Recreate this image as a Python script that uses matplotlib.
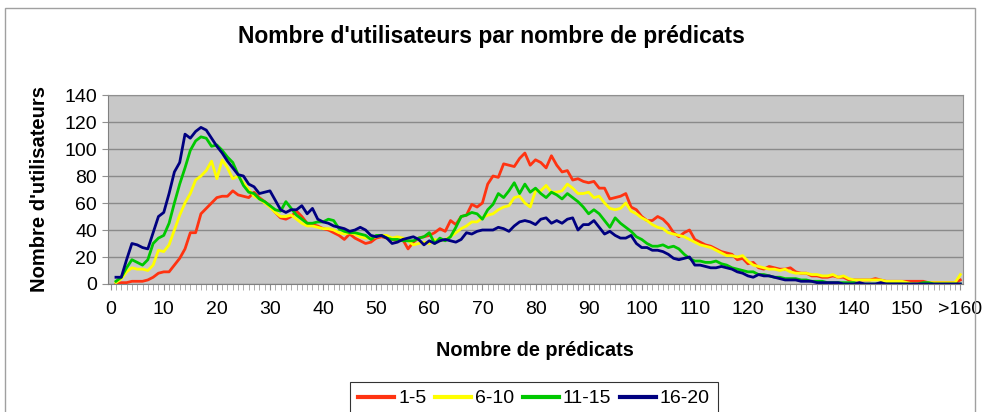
import matplotlib
matplotlib.use("Agg")
import matplotlib.pyplot as plt
from matplotlib.patches import Rectangle
from matplotlib.ticker import MultipleLocator, FixedLocator

plt.rcParams['font.family'] = ['Liberation Sans', 'DejaVu Sans']

# Number of predicates (1 .. 160, the last one stands for ">160")
predicates = list(range(1, 161))

users_1_5 = [
    0, 1, 1, 2, 2, 2, 3, 5, 8, 9,
    9, 14, 19, 26, 38, 38, 52, 56, 60, 64,
    65, 65, 69, 66, 65, 64, 68, 64, 61, 58,
    53, 49, 48, 50, 54, 50, 45, 44, 43, 41,
    40, 38, 36, 33, 37, 34, 32, 30, 31, 34,
    35, 34, 33, 32, 33, 26, 31, 34, 35, 36,
    38, 41, 39, 47, 44, 50, 51, 59, 57, 60,
    74, 80, 79, 89, 88, 87, 93, 97, 88, 92,
    90, 86, 95, 88, 83, 84, 77, 78, 76, 75,
    76, 71, 71, 63, 64, 65, 67, 57, 55, 50,
    47, 47, 50, 48, 44, 38, 35, 38, 40, 33,
    31, 29, 28, 26, 24, 23, 22, 18, 19, 15,
    16, 12, 11, 13, 12, 11, 11, 12, 9, 8,
    8, 6, 6, 5, 5, 6, 5, 5, 3, 3,
    3, 3, 3, 4, 3, 2, 2, 2, 2, 2,
    2, 2, 2, 1, 1, 1, 1, 1, 1, 3,
]

users_6_10 = [
    1, 4, 9, 12, 11, 11, 10, 14, 25, 24,
    29, 40, 51, 60, 67, 77, 80, 84, 91, 78,
    92, 86, 78, 80, 75, 70, 65, 63, 60, 57,
    53, 50, 50, 51, 48, 45, 43, 43, 42, 41,
    41, 40, 38, 37, 38, 37, 35, 34, 34, 35,
    36, 36, 34, 35, 34, 32, 29, 30, 31, 30,
    33, 32, 33, 35, 38, 41, 43, 46, 46, 49,
    51, 52, 55, 57, 58, 64, 65, 60, 57, 69,
    69, 73, 68, 68, 69, 74, 71, 67, 67, 68,
    64, 65, 60, 56, 55, 56, 60, 54, 52, 49,
    47, 44, 42, 41, 38, 37, 36, 35, 33, 31,
    29, 28, 27, 25, 23, 21, 21, 20, 21, 17,
    14, 13, 12, 11, 11, 10, 11, 9, 8, 8,
    8, 7, 7, 6, 6, 7, 5, 6, 4, 3,
    3, 3, 3, 3, 3, 2, 2, 2, 2, 1,
    0, 0, 0, 1, 1, 1, 1, 1, 1, 7,
]

users_11_15 = [
    2, 5, 12, 18, 16, 14, 18, 30, 34, 36,
    45, 60, 74, 86, 99, 106, 109, 108, 102, 103,
    99, 94, 90, 81, 73, 68, 67, 63, 61, 58,
    55, 54, 61, 56, 51, 48, 45, 45, 46, 46,
    48, 47, 41, 39, 38, 38, 37, 36, 33, 36,
    36, 34, 33, 33, 32, 32, 32, 34, 35, 38,
    30, 34, 32, 35, 42, 50, 51, 53, 52, 48,
    55, 59, 67, 64, 69, 75, 67, 74, 68, 71,
    67, 64, 68, 66, 63, 67, 64, 61, 57, 52,
    55, 52, 47, 42, 49, 45, 42, 39, 35, 33,
    30, 28, 28, 29, 27, 28, 26, 22, 19, 17,
    17, 16, 16, 17, 15, 14, 12, 11, 10, 9,
    9, 7, 7, 6, 5, 5, 4, 4, 4, 3,
    3, 2, 2, 2, 1, 1, 1, 1, 1, 1,
    0, 0, 0, 0, 0, 0, 0, 0, 0, 0,
    0, 0, 1, 1, 0, 0, 0, 0, 0, 0,
]

users_16_20 = [
    5, 5, 18, 30, 29, 27, 26, 38, 50, 53,
    67, 83, 90, 111, 108, 113, 116, 114, 108, 102,
    97, 91, 86, 81, 80, 74, 72, 67, 68, 69,
    62, 55, 53, 55, 55, 58, 52, 56, 48, 46,
    45, 43, 42, 41, 39, 40, 42, 40, 36, 35,
    36, 34, 30, 31, 33, 34, 35, 33, 29, 32,
    30, 32, 33, 32, 31, 33, 38, 37, 39, 40,
    40, 40, 42, 41, 39, 43, 46, 47, 46, 44,
    48, 49, 45, 47, 45, 48, 49, 40, 44, 44,
    47, 42, 37, 39, 36, 34, 34, 36, 30, 27,
    27, 25, 25, 24, 22, 19, 18, 19, 20, 14,
    14, 13, 12, 12, 13, 12, 11, 9, 8, 6,
    5, 7, 6, 6, 5, 4, 3, 3, 3, 2,
    2, 2, 1, 1, 1, 1, 1, 0, 0, 0,
    1, 0, 0, 0, 1, 0, 0, 0, 0, 0,
    0, 0, 0, 0, 0, 0, 0, 0, 0, 0,
]

series_labels = ["1-5", "6-10", "11-15", "16-20"]
series_colors = ["#ff3311", "#ffff00", "#00c800", "#000080"]

tick_positions = list(range(0, 151, 10)) + [160]
tick_labels = [str(v) for v in range(0, 151, 10)] + [">160"]

fig = plt.figure(figsize=(9.82, 4.12), dpi=100)
fig.patch.set_facecolor("white")

# outer chart frame
fig.patches.append(Rectangle((5 / 982, -0.05), 970 / 982, 1 - 8 / 412 + 0.05,
                             transform=fig.transFigure, fill=False,
                             edgecolor="#a0a0a0", linewidth=1.0))

ax = fig.add_axes([108 / 982, 1 - 284 / 412, (963 - 108) / 982, (284 - 95) / 412])
ax.set_facecolor("#c8c8c8")

for ys, lab, col in zip([users_1_5, users_6_10, users_11_15, users_16_20],
                        series_labels, series_colors):
    ax.plot(predicates, ys, color=col, linewidth=2.0, label=lab,
            solid_joinstyle="round")

ax.set_xlim(-0.5, 160.5)
ax.set_ylim(0, 140)
ax.yaxis.set_major_locator(MultipleLocator(20))
ax.grid(axis="y", color="#8a8a8a", linewidth=1.0)
ax.set_axisbelow(True)

ax.xaxis.set_major_locator(FixedLocator(tick_positions))
ax.set_xticklabels(tick_labels)
ax.xaxis.set_minor_locator(MultipleLocator(1))
ax.tick_params(axis="x", which="major", length=4, color="#909090", labelsize=14, pad=8)
ax.tick_params(axis="x", which="minor", length=4, color="#a0a0a0")
ax.tick_params(axis="y", which="major", length=4, color="#909090", labelsize=14, pad=4)

for side in ["top", "right"]:
    ax.spines[side].set_color("#909090")
for side in ["left", "bottom"]:
    ax.spines[side].set_color("#808080")

fig.text(0.5, 1 - 37 / 412, "Nombre d'utilisateurs par nombre de prédicats",
         ha="center", va="center", fontsize=16.5, fontweight="bold")
fig.text(535 / 982, 1 - 350 / 412, "Nombre de prédicats",
         ha="center", va="center", fontsize=14.3, fontweight="bold")
fig.text(40 / 982, 1 - 189 / 412, "Nombre d'utilisateurs",
         ha="center", va="center", rotation=90, fontsize=14.5, fontweight="bold")

leg = fig.legend(loc="upper center", bbox_to_anchor=(534 / 982, 1 - 382 / 412),
                 ncol=4, frameon=True, fancybox=False, fontsize=14,
                 handlelength=1.85, handletextpad=0.2, columnspacing=0.45,
                 borderpad=0.4, borderaxespad=0.0, edgecolor="black")
leg.get_frame().set_linewidth(0.8)
for line in leg.get_lines():
    line.set_linewidth(3.0)

fig.savefig("out.png", dpi=100)
